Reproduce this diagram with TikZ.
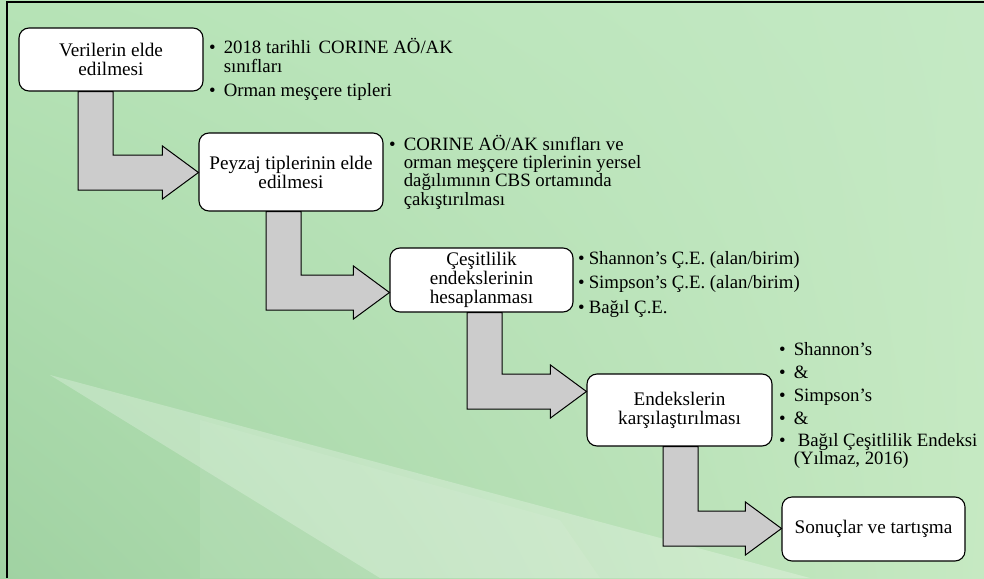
\documentclass[tikz,border=0pt]{standalone}
\usepackage{fontspec}
\setmainfont{Liberation Serif}
\usetikzlibrary{calc,shadings}
\definecolor{bgTL}{HTML}{B6E3B6}
\definecolor{bgTR}{HTML}{C4E9C4}
\definecolor{bgBL}{HTML}{A0D2A2}
\definecolor{bgBR}{HTML}{C6E9C2}
\definecolor{arrowgray}{HTML}{CCCCCC}
\newcommand\boxfont{\fontsize{19.2}{19}\selectfont}
\newcommand\listfont{\fontsize{18.8}{18}\selectfont}
\tikzset{
  box/.style={draw=black, fill=white, rounded corners=10pt, line width=1.1pt,
    align=center, inner sep=0pt, font=\boxfont, minimum width=184pt},
  arrowshape/.style={draw=black, fill=arrowgray, line width=1pt, line join=miter},
  listtext/.style={anchor=base west, inner sep=0pt, font=\listfont},
  frameline/.style={draw=black, line width=2pt}
}
\newcommand\bentarrow[4]{%
  \draw[arrowshape] let \p1=(#1.south), \p2=(#2.west) in
    (#3,\y1) -- (#3+35,\y1) -- (#3+35,#4) -- ({\x2-36pt},#4) -- ({\x2-36pt},#4-9)
    -- (\x2,#4+17.5) -- ({\x2-36pt},#4+44) -- ({\x2-36pt},#4+35) -- (#3,#4+35) -- cycle;}
\begin{document}
\begin{tikzpicture}[x=1pt,y=-1pt]
\useasboundingbox (0,0) rectangle (984,578);
\shade[upper left=bgTL, upper right=bgTR, lower left=bgBL, lower right=bgBR] (0,0) rectangle (984,578);
\fill[white, opacity=0.25] (50,375) -- (810,578) -- (380,578) -- cycle;
\fill[white, opacity=0.08] (200,420) -- (560,520) -- (600,578) -- (200,578) -- cycle;
\draw[frameline] (7,578) -- (7,2) -- (984,2);

% boxes
\node[box, minimum height=63pt] (b1) at (111,59.5) {Verilerin elde\\edilmesi};
\node[box, minimum height=78pt] (b2) at (291,172) {Peyzaj tiplerinin elde\\edilmesi};
\node[box, minimum width=183pt, minimum height=64pt] (b3) at (481.5,280) {Çeşitlilik\\endekslerinin\\hesaplanması};
\node[box, minimum width=185pt, minimum height=72pt] (b4) at (679.5,410) {Endekslerin\\karşılaştırılması};
\node[box, minimum width=183pt, minimum height=64pt] (b5) at (873.5,529) {Sonuçlar ve tartışma};

% bent arrows
\bentarrow{b1}{b2}{78}{155}
\bentarrow{b2}{b3}{266}{275}
\bentarrow{b3}{b4}{467}{374}
\bentarrow{b4}{b5}{663}{511}

% lists
\node[listtext] (l1) at (209,54) {\begin{tabular}[t]{@{}l@{\hspace{8pt}}l@{}}
• & 2018 tarihli\hspace{3pt} CORINE AÖ/AK\\
  & sınıfları\\[5pt]
• & Orman meşçere tipleri
\end{tabular}};
\node[listtext] (l2) at (389,150) {\begin{tabular}[t]{@{}l@{\hspace{8pt}}l@{}}
• & CORINE AÖ/AK sınıfları ve\\
  & orman meşçere tiplerinin yersel\\
  & dağılımının CBS ortamında\\
  & çakıştırılması
\end{tabular}};
\node[listtext] (l3) at (578,264) {\begin{tabular}[t]{@{}l@{\hspace{4pt}}l@{}}
• & Shannon’s Ç.E. (alan/birim)\\[6.5pt]
• & Simpson’s Ç.E. (alan/birim)\\[6.5pt]
• & Bağıl Ç.E.
\end{tabular}};
\node[listtext] (l4) at (779,355) {\begin{tabular}[t]{@{}l@{\hspace{8pt}}l@{}}
• & Shannon’s\\[5pt]
• & \&\\[5pt]
• & Simpson’s\\[5pt]
• & \&\\[4pt]
• & \hspace{4pt}Bağıl Çeşitlilik Endeksi\\
  & (Yılmaz, 2016)
\end{tabular}};
\end{tikzpicture}
\end{document}
